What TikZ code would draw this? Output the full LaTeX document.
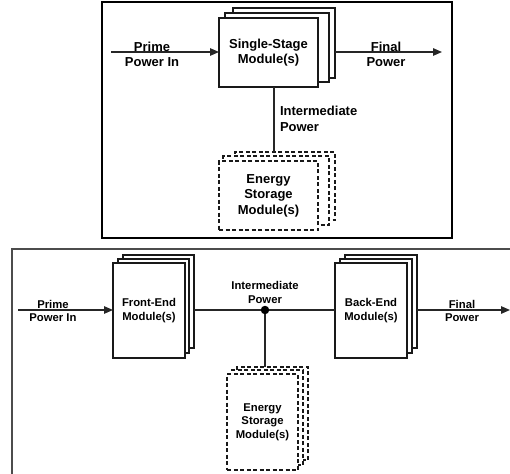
\documentclass[tikz,border=0pt]{standalone}
\usepackage{fontspec}
\setmainfont{Liberation Sans}
\usetikzlibrary{arrows.meta}
\begin{document}
\begin{tikzpicture}[x=1pt,y=-1pt,
  every node/.style={inner sep=0pt,outer sep=0pt},
  bigtxt/.style={font=\bfseries\fontsize{13}{15.6}\selectfont,align=center},
  smalltxt/.style={font=\bfseries\fontsize{11.3}{13.6}\selectfont,align=center},
  solidbox/.style={draw=black!90,line width=1.3pt,fill=white},
  dashbox/.style={draw=black!90,line width=1.3pt,fill=white,dash pattern=on 4pt off 2.5pt},
  conn/.style={draw=black!85,line width=1.3pt},
  arr/.style={conn,-{Triangle[length=9pt,width=7.5pt]}},
  frameA/.style={draw=black,line width=1.5pt},
  frameB/.style={draw=black!70,line width=1.3pt}
]
\useasboundingbox (0,0) rectangle (510,473);
\clip (0,0) rectangle (510,473);

% ---------------- top diagram ----------------
\draw[frameA] (102,2) rectangle (452,238);

% single-stage stack
\node[solidbox,minimum width=102pt,minimum height=70pt] (ssC) at (284,43) {};
\node[solidbox,minimum width=104pt,minimum height=69pt] (ssB) at (277,47.5) {};
\node[solidbox,minimum width=99pt,minimum height=69pt,bigtxt] (ss) at (268.5,52.5) {Single-Stage\\Module(s)};

% energy storage stack (top)
\node[dashbox,minimum width=100pt,minimum height=68pt] (esC) at (285,186) {};
\node[dashbox,minimum width=106pt,minimum height=69pt] (esB) at (276,190.5) {};
\node[dashbox,minimum width=99pt,minimum height=69pt,bigtxt] (es) at (268.5,195.5) {Energy\\Storage\\Module(s)};

\coordinate (pinA) at (111,52);
\coordinate (foutA) at (442,52);
\draw[arr] (pinA) -- (pinA -| ss.west);
\draw[arr] (ssC.east |- foutA) -- (foutA);
\draw[conn] (274,0 |- ss.south) -- (274,0 |- esC.north);

\node[bigtxt] (lpA) at (152,54.5) {Prime\\Power In};
\node[bigtxt] (lfA) at (386,54.5) {Final\\Power};
\node[bigtxt,align=left,anchor=north west] (liA) at (280,106) {Intermediate\\Power};

% ---------------- bottom diagram ----------------
\draw[frameB] (12,480) -- (12,249) -- (520,249);

% front-end stack
\node[solidbox,minimum width=71pt,minimum height=93pt] (feC) at (158.5,301.5) {};
\node[solidbox,minimum width=71pt,minimum height=94pt] (feB) at (153.5,306) {};
\node[solidbox,minimum width=72pt,minimum height=95pt,smalltxt] (fe) at (149,310.5) {Front-End\\Module(s)};

% back-end stack
\node[solidbox,minimum width=72pt,minimum height=93pt] (beC) at (381,301.5) {};
\node[solidbox,minimum width=72pt,minimum height=94pt] (beB) at (376,306) {};
\node[solidbox,minimum width=72pt,minimum height=95pt,smalltxt] (be) at (371,310.5) {Back-End\\Module(s)};

% energy storage stack (bottom)
\node[dashbox,minimum width=71pt,minimum height=93pt] (ebC) at (272.5,413.5) {};
\node[dashbox,minimum width=71pt,minimum height=95pt] (ebB) at (267.5,417.5) {};
\node[dashbox,minimum width=71pt,minimum height=96pt,smalltxt] (eb) at (262.5,422) {Energy\\Storage\\Module(s)};

\coordinate (pinB) at (18,310);
\coordinate (foutB) at (510,310);
\node[circle,fill=black,minimum size=8.5pt] (dot) at (265,310) {};
\draw[arr] (pinB) -- (pinB -| fe.west);
\draw[conn] (feC.east |- dot) -- (dot) -- (dot -| be.west);
\draw[arr] (beC.east |- foutB) -- (foutB);
\draw[conn] (dot) -- (dot |- ebC.north);

\node[smalltxt] (lpB) at (53,311) {Prime\\Power In};
\node[smalltxt] (lfB) at (462,311) {Final\\Power};
\node[smalltxt,anchor=south] (liB) at (265,303.5) {Intermediate\\Power};
\end{tikzpicture}
\end{document}
